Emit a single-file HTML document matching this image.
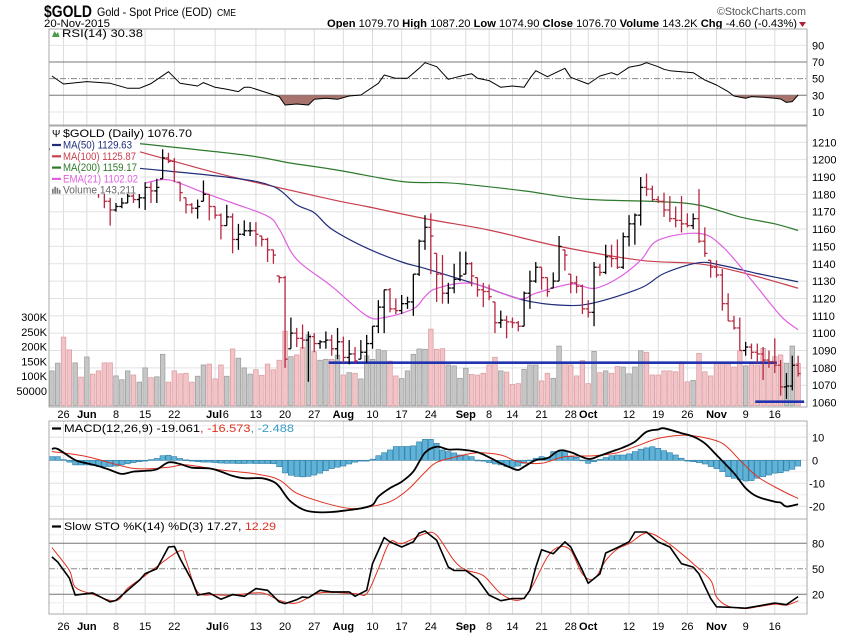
<!DOCTYPE html>
<html><head><meta charset="utf-8"><style>
html,body{margin:0;padding:0;background:#fff;}
svg{display:block;font-family:"Liberation Sans",Arial,sans-serif;}
</style></head><body>
<svg id="chart" width="850" height="633" viewBox="0 0 850 633" xmlns="http://www.w3.org/2000/svg">
<rect x="0" y="0" width="850" height="633" fill="#fff"/>
<g>
<text x="44" y="17" font-size="17" font-weight="bold" textLength="48" lengthAdjust="spacingAndGlyphs">$GOLD</text>
<text x="97" y="16" font-size="12" textLength="115" lengthAdjust="spacingAndGlyphs">Gold - Spot Price (EOD)</text>
<text x="217" y="16" font-size="10" textLength="19" lengthAdjust="spacingAndGlyphs">CME</text>
<text x="44" y="27" font-size="11" textLength="66" lengthAdjust="spacingAndGlyphs">20-Nov-2015</text>
<text x="717" y="15" font-size="11" fill="#555" textLength="89" lengthAdjust="spacingAndGlyphs">©StockCharts.com</text>
<text x="327" y="27" font-size="11" textLength="470" lengthAdjust="spacingAndGlyphs"><tspan font-weight="bold">Open</tspan> 1079.70 <tspan font-weight="bold">High</tspan> 1087.20 <tspan font-weight="bold">Low</tspan> 1074.90 <tspan font-weight="bold">Close</tspan> 1076.70 <tspan font-weight="bold">Volume</tspan> 143.2K <tspan font-weight="bold">Chg</tspan> -4.60 (-0.43%)</text>
<polygon points="799,22 806,22 802.5,27" fill="#b0203a"/>
</g>
<g id="grid"></g>
<g id="marks"></g>
<g id="labels"></g>
</svg>
<script>
// ---------- data ----------
const dateLabelIdx = [3,7,12,17,22,29,31,36,41,46,51,56,61,66,72,76,80,85,90,93,100,105,110,115,120,125];
const dateLabelTxt = ["26","Jun","8","15","22","Jul","6","13","20","27","Aug","10","17","24","Sep","8","14","21","28","Oct","12","19","26","Nov","9","16"];
const dateLabelBold = [0,1,0,0,0,1,0,0,0,0,1,0,0,0,1,0,0,0,0,1,0,0,0,1,0,0];
const gridIdx = [3,7,12,17,22,29,36,41,46,51,56,61,66,72,76,80,85,90,93,100,105,110,115,120,125];
const closes = [null,1206,1208,1190,1188,1190,1188,1192,1188,1182,1176,
1171,1173,1175,1179,1177,1178,1184,1182,1184,1201,
1199,1193,1181,1174,1172,1173,1180,1173,1168,1162,
1167,1154,1157,1159,1159,1157,1154,1148,1145,1132,
1085,1100,1097,1096,1098,1094,1095,1096,1091,1095,
1086,1088,1084,1089,1094,1104,1115,1125,1114,1113,
1117,1118,1134,1153,1161,1156,1134,1123,1126,1131,
1133,1140,1133,1125,1124,1121,1106,1107.5,1106.5,1106,
1104,1123,1130,1138,1132,1124,1130,1150,1145,1129,
1127,1114,1112,1138,1135,1144,1143,1138,1155.6,1163,
1168,1184,1183,1177,1176,1171,1166,1165,1163,1162,
1166,1153,1146,1138,1133.5,1117,1107,1103,1090,1092,
1089,1088,1084.5,1083.5,1081.5,1069,1069.5,1081.5,1076.7];
const highs = [null,1210,1212,1206,1193,1195,1193,1196,1194,1190,1181,
1178,1175,1178,1181,1182,1185,1187,1187,1189,1206,
1204,1201,1187,1178,1175,1177,1188,1180,1173,1169,
1174,1169,1163,1165,1164,1164,1156,1155,1148,1133,
1133,1109,1103,1105,1101,1100,1096,1101,1099,1103,
1098,1096,1092,1096,1099,1104,1119,1125,1126,1120,
1122,1121,1134,1154,1168,1169,1146,1145,1129,1140,
1147,1147,1141,1132,1129,1128,1118,1113,1110,1109,
1107,1124,1136,1141,1138,1132,1135,1156,1148,1134,
1133,1128,1119,1141,1140,1151,1151,1154,1158,1168,
1169,1190,1192,1185,1179,1181,1179,1173,1179,1169,
1169,1183,1161,1142,1142,1137,1123,1110,1109,1095,
1094,1094,1092,1090,1097,1084.5,1077,1087,1087];
const lows = [null,1198,1202,1186,1183,1185,1183,1186,1184,1178,1172,
1162,1170,1172,1175,1175,1172,1171,1175,1175,1189,
1198,1187,1176,1169,1169,1166,1176,1165,1166,1154,
1162,1146,1148,1156,1156,1150,1150,1141,1140,1129,
1080,1091,1092,1091,1072,1089,1091,1091,1087,1085,
1083,1082,1083,1085,1083,1091,1100,1100,1112,1111,
1111,1114,1110,1133,1148,1134,1118,1117,1117,1123,
1130,1134,1127,1121,1115,1119,1100,1103,1097,1103,
1101,1104,1114,1129,1125,1121,1126,1130,1136,1123,
1123,1111,1109,1104,1133,1134,1138,1137,1137,1150,
1151,1162,1179,1176,1175,1167,1164,1161,1158,1161,
1160,1152,1144,1132,1132,1113,1107,1102,1090,1087,
1085,1083,1073,1080,1077,1064,1062,1067,1075];
const volumes = [null,118,144,232,189,145,97,165,107,118,145,
145,101,88,118,104,80,128,95,98,174,
80,118,108,110,80,100,138,141,91,138,
100,192,161,128,107,122,103,141,122,154,
252,166,172,197,240,183,154,157,157,171,
104,112,110,91,169,157,190,186,151,101,
92,118,174,192,191,259,191,193,138,135,
93,127,106,104,110,138,164,118,114,72,
75,123,138,138,84,110,93,202,144,138,
101,153,75,184,112,118,110,133,131,108,
131,186,181,104,104,118,118,115,149,81,
86,177,115,101,147,147,147,131,186,135,
149,138,194,149,166,172,144,202,143];
const ma200Idx = [15,34,42,50,61,68,72,82,92,105,112,119,125,129];
const ma200Val = [1209.6,1202.7,1198,1194,1187.4,1186.8,1185.8,1182,1177.3,1175.8,1173.8,1167,1163,1159.2];
const ma100Idx = [15,22,32,49,55,65,76,88,102,112,120,129];
const ma100Val = [1205.5,1199,1190,1177,1173,1166,1159.4,1150,1142,1140,1134.4,1125.9];
const ma50Idx = [16,32,39,43,46,49,55,61,65,74,82,89,94,102,106,112,116,122,129];
const ma50Val = [1195,1189.5,1184.5,1174,1169.4,1160,1149,1141,1137.3,1128,1119,1116,1117.5,1126,1134.4,1140.6,1139,1134.4,1129.6];
const emaIdx = [17,21,27,32,38,40,43,49,55,58,63,65,67,73,81,84,90,94,98,102,105,112,116,121,126,129];
const emaVal = [1186.5,1188.4,1181,1175,1167.4,1160,1142.5,1127,1110,1109,1114,1121,1125.8,1128.7,1120,1123,1128.3,1125.8,1131.5,1142,1153.6,1157.5,1150,1130.6,1110,1102];
const rsiIdx = [1,3,7,11,14,16,18,21,23,26,27,29,31,33,34,35,40,41,43,45,46,48,50,52,54,57,58,60,62,64,65,67,69,71,73,74,76,78,80,82,83,84,86,89,90,93,95,97,98,100,102,103,105,106,107,109,111,113,115,117,118,120,121,123,125,126,127,128,129];
const rsiVal = [53.2,43.6,46.4,44.4,38.4,38.4,44,58.4,44.4,41.2,45.2,39.6,37.2,34.4,39.6,39.6,28.4,18.4,19.6,18.4,25.2,26.4,25.2,29.2,30.4,44.4,54.4,50.4,50.4,62.4,69.2,64.4,49.2,52.8,56,50.4,47.6,39.6,41.2,39.6,50.4,59.6,52.4,62.4,51.6,43.6,53.2,57.2,54.4,63.6,66.4,69.2,64.4,61.2,59.6,58.4,57.2,48.4,42.4,34.4,29.2,26.4,28.4,27.6,26.4,25.6,21.5,22.5,30.4];
const macdIdx = [1,2,5,7,9,11,13,15,17,19,21,23,25,28,30,32,34,37,39,40,41,42,44,46,49,52,54,56,57,59,61,63,65,67,69,71,74,76,78,80,81,82,84,86,88,90,93,95,97,99,101,103,105,106,109,111,113,115,118,120,122,125,126,127,129];
const macdVal = [4.9,4.9,0.1,-1.3,-2.5,-4.2,-5.9,-4.9,-4.6,-3.9,-0.9,-1.6,-3.2,-3.5,-4.9,-6.8,-7.8,-7.8,-9.3,-11.4,-15,-18,-21.3,-22.5,-22.5,-21.6,-20.9,-19.4,-15.8,-12.1,-9.3,-4.9,3.3,5.9,4.7,4.7,3.5,1.3,-1.3,-3.5,-4.2,-2.8,0.1,0.9,4.2,3.5,0.6,2,3.8,5.6,8.1,12.4,13.4,13.9,11.8,10.3,7.4,2.3,-5.6,-12.1,-15.8,-18,-18.4,-20.1,-19.1];
const sigIdx = [1,7,15,21,24,30,36,40,43,48,52,55,59,62,65,67,71,74,78,81,85,89,94,98,101,105,109,112,116,119,122,126,129];
const sigVal = [3.8,1.6,-3.5,-3.0,-2.0,-4.2,-5.9,-8.5,-14.3,-18.7,-20.9,-20.4,-18,-12.9,-5.2,-0.9,1.9,3.3,2.3,-0.6,-1.3,1.6,2.0,3.3,5.9,9.5,10.9,10.3,7.4,0.1,-7.1,-12.9,-16.6];
const histVal = [null,1.6,1.6,0.3,-0.8,-2,-2,-2,-2.2,-2.7,-2.7,
-2.7,-2.5,-2.0,-1.5,-1.0,-0.6,-0.3,0.3,0.8,2.0,
2.2,1.6,0.8,0.2,-0.3,-0.6,-0.8,-0.8,-1.0,-1.2,
-1.3,-1.3,-1.4,-1.4,-1.3,-1.4,-1.4,-1.4,-1.5,-2.8,
-5.5,-6.5,-7.0,-7.2,-7.0,-6.4,-5.6,-4.5,-3.6,-3.0,
-2.5,-1.6,-0.8,-0.3,-0.1,0.5,2.0,3.3,4.5,6.0,
6.0,6.0,6.3,8.0,9.1,9.1,7.4,4.5,3.8,3.2,
2.3,2.0,1.6,0.1,-0.2,-1.0,-1.6,-2.0,-2.7,-3.0,
-2.5,-1.3,0.1,0.9,1.6,1.3,3.8,3.8,3.8,1.6,
1.3,0.1,-1.3,-0.6,0.4,1.2,2.0,2.3,2.3,2.8,
3.8,4.8,5.4,5.9,5.2,4.2,3.3,2.3,0.9,-0.1,
-0.6,-1.0,-1.6,-2.7,-3.6,-4.9,-7.1,-7.8,-8.5,-9.0,
-8.8,-7.8,-7.1,-6.4,-5.6,-5.4,-4.6,-3.9,-2.5];
const stoKIdx = [1,2,4,5,8,11,12,14,16,17,19,21,22,23,25,26,28,30,32,34,36,38,40,41,43,44,45,47,49,52,53,55,56,58,59,61,63,64,65,67,69,70,72,74,76,78,80,82,83,84,85,87,89,90,92,93,95,96,98,100,101,103,105,107,109,111,112,114,115,118,120,122,125,127,129];
const stoKVal = [64,58,39,19,21.6,11,13,24.7,36.5,44.3,50,75.6,76.4,62,36.5,19,21.6,14.2,19.6,17.6,26.7,24.7,11,9,13.7,16.9,16,24.7,22.8,22.8,17.6,24.7,56,86.7,81.6,75.6,81.6,92,94.5,83.5,52,48,48,38,19,12.5,15,15,24.7,52,72.5,67.8,81.6,75.6,48,33,44,68.6,74.9,81.6,93.3,93.3,81.6,75.6,56,52,44,15,5.3,4.5,3.7,6,9.8,7.8,17.3];
const stoDIdx = [1,4,5,8,12,14,17,19,23,24,26,29,32,37,40,43,47,53,55,57,59,61,65,67,70,72,75,78,81,83,86,88,90,92,94,96,98,100,103,106,109,111,114,115,117,120,122,125,127,129];
const stoDVal = [75,48,28.5,20,12.5,27,42,52.5,71.3,59.6,22.8,19.6,19,21.6,12.9,9.8,21.6,20.8,20.8,50,81.6,79.6,91.4,89.4,59.6,48.6,42,20.8,12.9,24.7,63.9,75.6,71.7,44,38,59.6,73.3,79.6,92.2,83.5,67.8,56,36.5,17,6,3.3,5.3,8.4,7.3,12.3];
const priceTicks = [1210,1200,1190,1180,1170,1160,1150,1140,1130,1120,1110,1100,1090,1080,1070,1060];
const volTicks = [300,250,200,150,100,50];
const volTickLbl = ["300K","250K","200K","150K","100K","50000"];
const rsiTicks = [90,70,50,30,10];
const macdTicks = [10,0,-10,-20];
const stoTicks = [80,50,20];
const supportLevels = [1083, 1060.5];

// ---------- scales ----------
const L = 49, R = 807;
function X(i){ return 46.04 + i*5.83; }
function PY(p){ return 142.3 + (1210-p)*1.735; }
function VY(k){ return 405.8 - k*0.296; }
function RY(v){ return 120.3 - v*0.833; }
function MY(v){ return 460.3 - v*2.3; }
function SY(v){ return 611.3 - v*0.85; }
const NS = "http://www.w3.org/2000/svg";
function mk(parent, tag, attrs){
  const e = document.createElementNS(NS, tag);
  for (const k in attrs) e.setAttribute(k, attrs[k]);
  parent.appendChild(e);
  return e;
}
const grid = document.getElementById('grid');
const marks = document.getElementById('marks');
const labels = document.getElementById('labels');

const panels = [[29,125,'rsi'],[126,407,'price'],[421,519,'macd'],[519,614,'sto']];
panels.forEach(p => {
  const r = mk(grid, 'rect', {x:L, y:p[0], width:R-L, height:p[1]-p[0], fill:'#fff', stroke:'none'});
  
  
});
panels.forEach(p => {
  gridIdx.forEach(i => {
    const l = mk(grid, 'line', {x1:X(i), x2:X(i), y1:p[0], y2:p[1], stroke:'#dcdcdc', 'stroke-width':1});
    
    
  });
});
function hline(y, color, w, dash, name){
  const l = mk(grid, 'line', {x1:L, x2:R, y1:y, y2:y, stroke:color, 'stroke-width':w});
  if (dash) l.setAttribute('stroke-dasharray', dash);
  
  
}
priceTicks.forEach(t => hline(PY(t), '#e2e2e2', 1, null, 'price-gridline'));
[90,10].forEach(t => hline(RY(t), '#e6e6e6', 1, null, 'rsi-gridline'));
hline(RY(70), '#777', 1, null, 'rsi-overbought-line');
hline(RY(30), '#777', 1, null, 'rsi-oversold-line');
hline(RY(50), '#888', 1, '6,2,1,2', 'rsi-midline');
[15,5,-5,-15].forEach(t => hline(MY(t), '#eeeeee', 1, null, 'macd-minor-gridline'));
macdTicks.forEach(t => hline(MY(t), '#e0e0e0', 1, null, 'macd-gridline'));
[90,70,60,40,30,10].forEach(t => hline(SY(t), '#eeeeee', 1, null, 'sto-minor-gridline'));
hline(SY(80), '#777', 1, null, 'sto-overbought-line');
hline(SY(20), '#777', 1, null, 'sto-oversold-line');
hline(SY(50), '#888', 1, '6,2,1,2', 'sto-midline');

// ---------- volume ----------
for (let i = 1; i < volumes.length; i++) {
  const down = i > 1 && closes[i] < closes[i-1];
  const b = mk(marks, 'rect', {x:X(i)-2.3, y:VY(volumes[i]), width:4.6, height:VY(0)-VY(volumes[i]),
    fill: down ? '#f2c4c7' : '#c6c6c6', stroke: down ? '#d99aa0' : '#9a9a9a', 'stroke-width':0.7});
  
  
}

// ---------- support lines ----------
for (let k = 0; k < supportLevels.length; k++) {
  const x1 = k === 0 ? X(49) - 3 : X(122) - 2;
  const x2 = k === 0 ? X(125) + 2 : X(129) + 6;
  const l = mk(marks, 'line', {x1:x1, x2:x2, y1:PY(supportLevels[k]), y2:PY(supportLevels[k]), stroke:'#2233b0', 'stroke-width':2.6});
  
  
}

// ---------- smooth line helper ----------
function smoothPath(idx, vals, yf){
  const P = idx.map((i,k) => [X(i), yf(vals[k])]);
  let d = 'M' + P[0][0].toFixed(1) + ',' + P[0][1].toFixed(1);
  for (let k = 0; k < P.length-1; k++) {
    const p0 = P[k-1] || P[k], p1 = P[k], p2 = P[k+1], p3 = P[k+2] || P[k+1];
    const c1x = p1[0] + (p2[0]-p0[0])/6, c1y = p1[1] + (p2[1]-p0[1])/6;
    const c2x = p2[0] - (p3[0]-p1[0])/6, c2y = p2[1] - (p3[1]-p1[1])/6;
    d += 'C' + c1x.toFixed(1)+','+c1y.toFixed(1)+' '+c2x.toFixed(1)+','+c2y.toFixed(1)+' '+p2[0].toFixed(1)+','+p2[1].toFixed(1);
  }
  return d;
}
function curve(parent, idx, vals, yf, color, w, name){
  const p = mk(parent, 'path', {d:smoothPath(idx, vals, yf), fill:'none', stroke:color, 'stroke-width':w, 'stroke-linejoin':'round'});
  
  
  return p;
}
function poly(parent, idx, vals, yf, color, w, name){
  const pts = idx.map((i,k) => X(i).toFixed(1) + ',' + yf(vals[k]).toFixed(1)).join(' ');
  const p = mk(parent, 'polyline', {points:pts, fill:'none', stroke:color, 'stroke-width':w, 'stroke-linejoin':'round'});
  
  
  return p;
}
curve(marks, ma200Idx, ma200Val, PY, '#2d7a2d', 1.2, 'ma200-line');
curve(marks, ma100Idx, ma100Val, PY, '#c8404f', 1.2, 'ma100-line');
curve(marks, ma50Idx, ma50Val, PY, '#1f2d7a', 1.2, 'ma50-line');
curve(marks, emaIdx, emaVal, PY, '#e060e0', 1.2, 'ema21-line');

// ---------- price bars ----------
for (let i = 1; i < closes.length; i++) {
  const up = i === 1 || closes[i] >= closes[i-1];
  const col = up ? '#000' : '#b5283f';
  const open = i === 1 ? closes[i] : closes[i-1];
  const oy = PY(Math.min(Math.max(open,lows[i]),highs[i]));
  const g = mk(marks, 'g', {stroke:col, 'stroke-width':1.3});
  
  
  mk(g, 'line', {x1:X(i), x2:X(i), y1:PY(highs[i]), y2:PY(lows[i])});
  mk(g, 'line', {x1:X(i)-2.6, x2:X(i), y1:oy, y2:oy});
  mk(g, 'line', {x1:X(i), x2:X(i)+2.6, y1:PY(closes[i]), y2:PY(closes[i])});
}

// ---------- RSI ----------
const clip = mk(marks, 'clipPath', {id:'rsiclip'});
mk(clip, 'rect', {x:L, y:RY(30), width:R-L, height:125-RY(30)});
const areaPts = rsiIdx.map((i,k) => X(i).toFixed(1)+','+RY(rsiVal[k]).toFixed(1));
areaPts.push(X(rsiIdx[rsiIdx.length-1]).toFixed(1)+','+RY(30).toFixed(1));
areaPts.push(X(rsiIdx[0]).toFixed(1)+','+RY(30).toFixed(1));
const area = mk(marks, 'polygon', {points:areaPts.join(' '), fill:'#a8736c', 'clip-path':'url(#rsiclip)'});


poly(marks, rsiIdx, rsiVal, RY, '#000', 1, 'rsi-line');

// ---------- MACD ----------
for (let i = 1; i < histVal.length; i++) {
  const v = histVal[i];
  const y0 = MY(0), y1 = MY(v);
  const b = mk(marks, 'rect', {x:X(i)-2.6, y:Math.min(y0,y1), width:5.2, height:Math.max(0.8,Math.abs(y1-y0)), fill:'#5fb2d8', stroke:'#2e7ca4', 'stroke-width':0.6});
  
  
}
curve(marks, sigIdx, sigVal, MY, '#e03020', 1, 'macd-signal-line');
curve(marks, macdIdx, macdVal, MY, '#000', 1.8, 'macd-line');

// ---------- Stochastic ----------
curve(marks, stoDIdx, stoDVal, SY, '#e03020', 1, 'sto-d-line');
poly(marks, stoKIdx, stoKVal, SY, '#000', 1.6, 'sto-k-line');

panels.forEach(p => {
  const r = mk(labels, 'rect', {x:L, y:p[0], width:R-L, height:p[1]-p[0], fill:'none', stroke:'#a8a8a8', 'stroke-width':1});
  
  
});

// ---------- axis labels ----------
function txt(x, y, s, opts, name){
  const t = mk(labels, 'text', Object.assign({x:x, y:y, 'font-size':11, fill:'#000'}, opts || {}));
  t.textContent = s;
  
  
  return t;
}
priceTicks.forEach(t => txt(812, PY(t)+4, String(t), {}, 'price-tick-label'));
volTicks.forEach((t,k) => txt(47, VY(t)+4, volTickLbl[k], {'text-anchor':'end'}, 'volume-tick-label'));
rsiTicks.forEach(t => txt(812, RY(t)+4, String(t), {}, 'rsi-tick-label'));
macdTicks.forEach(t => txt(t < 0 ? 809 : 812, MY(t)+4, String(t), {}, 'macd-tick-label'));
stoTicks.forEach(t => txt(812, SY(t)+4, String(t), {}, 'sto-tick-label'));
[418, 630].forEach(y => {
  dateLabelIdx.forEach((i,k) => {
    const x = X(i) - ((dateLabelTxt[k] === "Jul" || (dateLabelTxt[k] === "6" && i === 31)) ? 1 : 0);
    txt(x, y, dateLabelTxt[k], {'text-anchor':'middle', 'font-weight': dateLabelBold[k] ? 'bold' : 'normal', 'font-size':11}, 'date-axis-label');
  });
});

// ---------- legends ----------
const lg = mk(labels, 'rect', {x:50, y:127, width:90, height:67, fill:'#fff'});


const lg2 = mk(labels, 'rect', {x:50, y:127, width:144, height:11, fill:'#fff'});


txt(52, 137, '\u03A8', {'font-size':10}, 'price-legend-icon');
txt(63, 137, '$GOLD (Daily) 1076.70', {textLength:129, lengthAdjust:'spacingAndGlyphs'}, 'price-legend-title');
const legendNames = ['MA(50) 1129.63','MA(100) 1125.87','MA(200) 1159.17','EMA(21) 1102.02','Volume 143,211'];
const legendColors = ['#1f2d7a','#c8404f','#2d7a2d','#e060e0','#666'];
const legendLens = [69,73,74,75,73];
legendNames.forEach((s,k) => {
  const y = 148.5 + k*11.3;
  if (k < 4) {
    const d = mk(labels, 'line', {x1:52, x2:61, y1:y-3.5, y2:y-3.5, stroke:legendColors[k], 'stroke-width':2.2});
    
    
  } else {
    const d = mk(labels, 'path', {d:'M52,'+y+'v-5h1.6v5zM54.3,'+y+'v-7h1.6v7zM56.6,'+y+'v-6h1.6v6zM58.9,'+y+'v-4h1.6v4z', fill:'#777'});
    
    
  }
  txt(63, y, s, {fill:legendColors[k], textLength:legendLens[k], lengthAdjust:'spacingAndGlyphs'}, 'legend-entry');
});
const ri = mk(labels, 'path', {d:'M52,37l2.5,-6l2,3l1.5,-2l1.5,5z', fill:'#4d9a4d'});


txt(62, 37, 'RSI(14) 30.38', {textLength:81, lengthAdjust:'spacingAndGlyphs'}, 'rsi-legend');
const m1 = mk(labels, 'line', {x1:52, x2:61, y1:428.5, y2:428.5, stroke:'#000', 'stroke-width':2.2});


const mt = txt(64, 432, '', {textLength:230, lengthAdjust:'spacingAndGlyphs'}, 'macd-legend');
mt.innerHTML = 'MACD(12,26,9) -19.061<tspan fill="#e03020">, -16.573</tspan><tspan fill="#3a9cc8">, -2.488</tspan>';
const s1 = mk(labels, 'line', {x1:52, x2:61, y1:526.5, y2:526.5, stroke:'#000', 'stroke-width':2.2});


const st = txt(64, 530, '', {textLength:212, lengthAdjust:'spacingAndGlyphs'}, 'sto-legend');
st.innerHTML = 'Slow STO %K(14) %D(3) 17.27,<tspan fill="#e03020"> 12.29</tspan>';
</script>
</body></html>
